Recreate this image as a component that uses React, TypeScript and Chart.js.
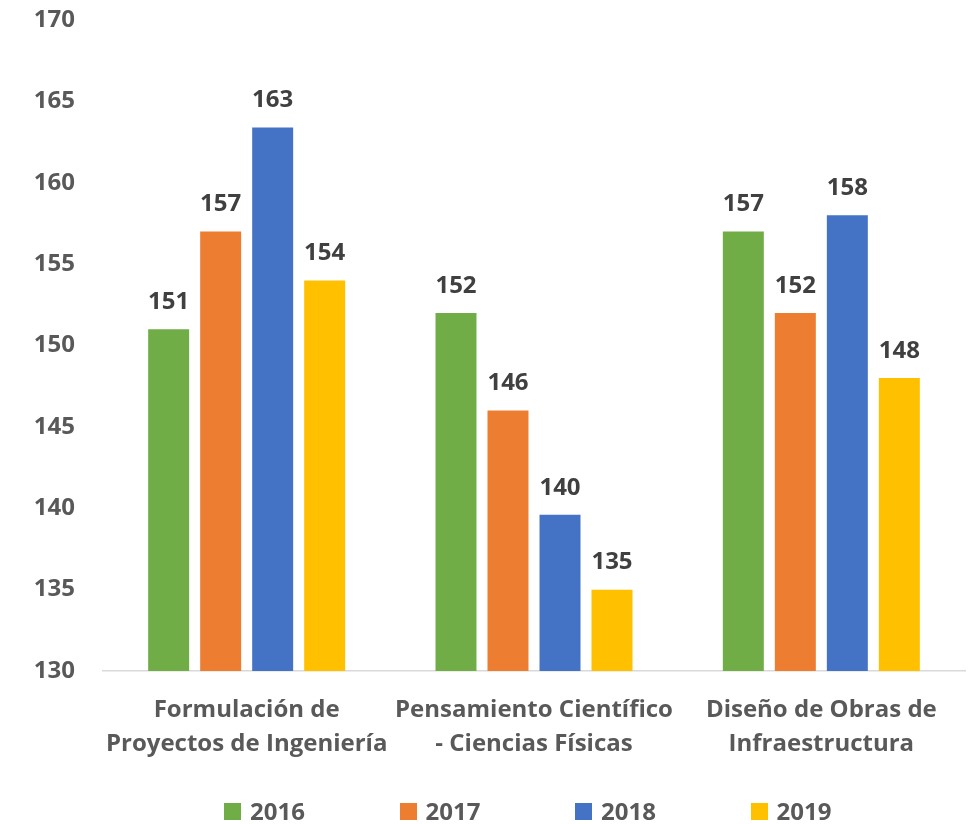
import React, { useEffect, useRef } from "react";
import { Chart, registerables } from "chart.js";

Chart.register(...registerables);

const categories: string[][] = [
  ["Formulación de", "Proyectos de Ingeniería"],
  ["Pensamiento Científico", "- Ciencias Físicas"],
  ["Diseño de Obras de", "Infraestructura"],
];
const years = ["2016", "2017", "2018", "2019"];
const values2016 = [151, 152, 157];
const values2017 = [157, 146, 152];
const values2018 = [163.4, 139.6, 158];
const values2019 = [154, 135, 148];
const colors = ["#70AD47", "#ED7D31", "#4472C4", "#FFC000"];
const yMin = 130;
const yMax = 170;
const yStep = 5;

const FONT = "'Open Sans', Lato, sans-serif";
const FS = 24;

const valueLabels = {
  id: "valueLabels",
  afterDatasetsDraw(chart: any) {
    const ctx = chart.ctx;
    ctx.save();
    ctx.font = `bold ${FS}px ${FONT}`;
    ctx.fillStyle = "#404040";
    ctx.textAlign = "center";
    ctx.textBaseline = "middle";
    chart.data.datasets.forEach((ds: any, i: number) => {
      const meta = chart.getDatasetMeta(i);
      meta.data.forEach((bar: any, j: number) => {
        const v = ds.data[j];
        ctx.fillText(String(Math.round(v)), bar.x, bar.y - 27);
      });
    });
    ctx.restore();
  },
};

export default function App() {
  const ref = useRef<HTMLCanvasElement>(null);
  useEffect(() => {
    document.body.style.margin = "0";
    const series = [values2016, values2017, values2018, values2019];
    const chart = new Chart(ref.current!, {
      type: "bar",
      data: {
        labels: categories,
        datasets: years.map((y, i) => ({
          label: y,
          data: series[i],
          backgroundColor: colors[i],
          borderWidth: 0,
          categoryPercentage: 0.724,
          barPercentage: 0.788,
        })),
      },
      options: {
        animation: false,
        responsive: false,
        maintainAspectRatio: false,
        layout: { padding: { top: 20, right: 4, bottom: 0, left: 0 } },
        plugins: {
          legend: { display: false },
          tooltip: { enabled: false },
        },
        scales: {
          x: {
            grid: { display: false, drawTicks: false },
            border: { display: true, color: "#D9D9D9", width: 1.5 },
            ticks: {
              color: "#595959",
              font: { family: FONT, size: FS, weight: "bold", lineHeight: 1.43 },
              padding: 22,
              maxRotation: 0,
              autoSkip: false,
            },
            afterFit: (s: any) => {
              s.height = 153;
              s.paddingLeft = 0;
              s.paddingRight = 0;
            },
          },
          y: {
            min: yMin,
            max: yMax,
            grid: { display: false, drawTicks: false },
            border: { display: false },
            ticks: {
              stepSize: yStep,
              color: "#595959",
              font: { family: FONT, size: FS, weight: "bold" },
              padding: 28,
            },
            afterFit: (s: any) => {
              s.width = 103;
              s.paddingTop = 0;
              s.paddingBottom = 0;
            },
          },
        },
      },
      plugins: [valueLabels],
    });
    return () => chart.destroy();
  }, []);

  return (
    <div style={{ position: "relative", width: 969, height: 824, overflow: "hidden" }}>
      <canvas ref={ref} width={969} height={824} style={{ display: "block" }} />
      <div
        style={{
          position: "absolute",
          left: 224,
          top: 797,
          display: "flex",
          alignItems: "center",
          fontFamily: FONT,
          fontWeight: "bold",
          fontSize: FS,
          color: "#595959",
          lineHeight: "28px",
        }}
      >
        {years.map((y, i) => (
          <div key={y} style={{ display: "flex", alignItems: "center", width: 175.5 }}>
            <span style={{ display: "inline-block", width: 17, height: 17, background: colors[i], marginRight: 9 }} />
            <span>{y}</span>
          </div>
        ))}
      </div>
    </div>
  );
}
